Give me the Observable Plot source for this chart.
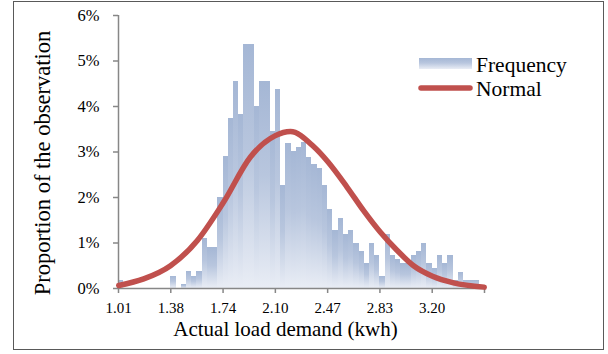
<!DOCTYPE html>
<html><head><meta charset="utf-8">
<script src="https://cdn.jsdelivr.net/npm/d3@7"></script>
<script src="https://cdn.jsdelivr.net/npm/@observablehq/plot@0.6"></script>
<style>
body{margin:0;background:#fff;}
#chart{width:608px;height:354px;}
</style></head><body><div id="chart"></div>
<script>
// Histogram bins (category axis): start and width of each bin, kWh
const binStart = 1.01;
const binWidth = 0.0365;
// Proportion of observations per bin, %
const frequencyPct = [
  0.17, 0, 0, 0, 0, 0, 0, 0, 0, 0,
  0.27, 0, 0.08, 0.37, 0.27, 0.37, 1.09, 0.90, 0.90, 1.99,
  2.90, 3.73, 4.54, 3.82, 5.36, 5.36, 4.00, 4.54, 4.54, 3.45,
  4.37, 2.27, 3.18, 3.01, 3.09, 3.20, 2.89, 2.73, 2.63, 2.27,
  1.74, 1.27, 1.53, 1.18, 1.27, 1.00, 0.81, 0.54, 1.00, 0.72,
  0.27, 1.18, 0.72, 0.63, 0.54, 0.54, 0.72, 0.81, 1.00, 0.54,
  0.45, 0.72, 0.54, 0.72, 0.18, 0.36, 0.18, 0.18, 0.18, 0
];
// Fitted normal curve
const normalX   = [1.012, 1.186, 1.373, 1.559, 1.744, 1.931, 2.105, 2.210, 2.372, 2.473, 2.605, 2.721, 2.837, 2.954, 3.070, 3.202, 3.349, 3.563];
const normalPct = [0.066, 0.21, 0.50, 1.05, 1.90, 2.89, 3.36, 3.45, 3.12, 2.78, 2.23, 1.71, 1.24, 0.84, 0.50, 0.27, 0.125, 0.03];
// Axis ticks
const xTickValues = [1.01, 1.375, 1.74, 2.105, 2.47, 2.835, 3.20, 3.565];
const xTickLabels = ["1.01", "1.38", "1.74", "2.10", "2.47", "2.83", "3.20", ""];
const yTicksPct = [0, 1, 2, 3, 4, 5, 6];
const legendLabels = ["Frequency", "Normal"];
const xTitle = "Actual load demand (kwh)";
const yTitle = "Proportion of the observation";

const bars = frequencyPct.map((p, i) => ({x1: binStart + i * binWidth, x2: binStart + (i + 1) * binWidth, y: p / 100}));
const curvePts = normalX.map((x, i) => ({x, y: normalPct[i] / 100}));

const axisGray = "#878787";
const red = "#c0504d";

const defsMark = () => {
  const d = d3.create("svg:defs");
  const g = d.append("linearGradient").attr("id", "barGrad").attr("x1", 0).attr("y1", 0).attr("x2", 0).attr("y2", 1);
  g.append("stop").attr("offset", "0%").attr("stop-color", "#a5b7d5");
  g.append("stop").attr("offset", "45%").attr("stop-color", "#b8c6de");
  g.append("stop").attr("offset", "100%").attr("stop-color", "#e9edf5");
  return d.node();
};

const decorMark = () => {
  const g = d3.create("svg:g");
  // outer frame
  g.append("rect").attr("x", 13.5).attr("y", 1.5).attr("width", 590).attr("height", 348)
    .attr("fill", "none").attr("stroke", "#595959").attr("stroke-width", 1);
  // legend
  g.append("rect").attr("x", 419).attr("y", 58).attr("width", 53).attr("height", 11).attr("fill", "url(#barGrad)");
  g.append("line").attr("x1", 421).attr("x2", 470).attr("y1", 88).attr("y2", 88)
    .attr("stroke", red).attr("stroke-width", 5.5).attr("stroke-linecap", "round");
  legendLabels.forEach((t, i) => {
    g.append("text").attr("x", 476).attr("y", 64 + i * 24).attr("dy", "0.35em")
      .attr("text-anchor", "start").attr("font-size", 21.5).attr("fill", "#000").text(t);
  });
  return g.node();
};

const chart = Plot.plot({
  width: 608,
  height: 354,
  marginLeft: 118,
  marginRight: 124,
  marginTop: 15,
  marginBottom: 66,
  style: {fontFamily: "'Liberation Serif', 'Times New Roman', serif", background: "#fff", color: "#000"},
  x: {domain: [xTickValues[0], xTickValues[xTickValues.length - 1]]},
  y: {domain: [0, 0.06]},
  marks: [
    defsMark,
    Plot.rectY(bars, {x1: "x1", x2: "x2", y: "y", fill: "url(#barGrad)", shapeRendering: "crispEdges"}),
    Plot.axisY({ticks: yTicksPct.map(d => d / 100), tickFormat: d => Math.round(d * 100) + "%", tickSize: 5, tickPadding: 14,
      fontSize: 16.5, stroke: axisGray, strokeWidth: 1.5, fill: "#000", label: null}),
    Plot.axisX({ticks: xTickValues, tickFormat: d => xTickLabels[xTickValues.indexOf(d)], tickSize: 5, tickPadding: 9,
      fontSize: 15, stroke: axisGray, strokeWidth: 1.5, fill: "#000", label: null}),
    Plot.ruleX([xTickValues[0]], {y1: 0, y2: 0.06, stroke: axisGray, strokeWidth: 1.5}),
    Plot.ruleY([0], {x1: xTickValues[0], x2: xTickValues[xTickValues.length - 1], stroke: axisGray, strokeWidth: 1.5}),
    Plot.line(curvePts, {x: "x", y: "y", stroke: red, strokeWidth: 5.5, curve: "monotone-x", strokeLinecap: "round", strokeLinejoin: "round"}),
    Plot.text([xTitle], {frameAnchor: "bottom", lineAnchor: "middle", textAnchor: "middle", dy: 41, dx: -16, fontSize: 21, fill: "#000"}),
    Plot.text([yTitle], {frameAnchor: "left", lineAnchor: "middle", textAnchor: "middle", rotate: -90, dx: -76, dy: 11, fontSize: 22.5, fill: "#000"}),
    decorMark
  ]
});
document.getElementById("chart").appendChild(chart);
</script>
</body></html>
